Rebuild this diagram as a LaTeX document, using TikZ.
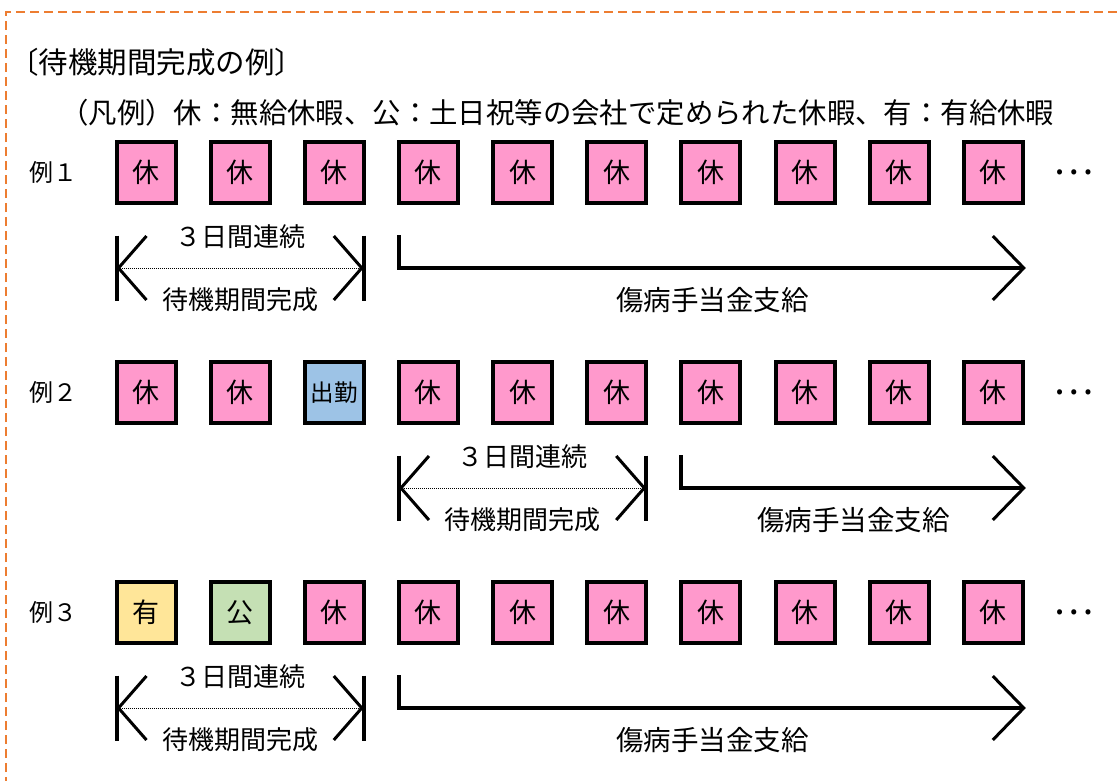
\documentclass[tikz,border=0pt]{standalone}
\usepackage{fontspec}
\setmainfont{Noto Sans CJK JP}
\usetikzlibrary{arrows.meta,calc}
\definecolor{RestClr}{HTML}{FF99CC}
\definecolor{WorkClr}{HTML}{9DC3E6}
\definecolor{PaidClr}{HTML}{FFE699}
\definecolor{HoliClr}{HTML}{C5E0B4}
\definecolor{FrameClr}{HTML}{ED7D31}

\begin{document}
\begin{tikzpicture}[x=1pt,y=-1pt,
    day/.style={draw=black,line width=4pt,minimum width=59pt,minimum height=61pt,
      inner sep=0pt,fill=RestClr,font=\fontsize{27pt}{27pt}\selectfont},
    rest/.style={fill=RestClr},
    work/.style={fill=WorkClr,font=\fontsize{23.5pt}{23.5pt}\selectfont},
    paid/.style={fill=PaidClr},
    holi/.style={fill=HoliClr},
    lbl/.style={inner sep=0pt,font=\fontsize{#1pt}{#1pt}\selectfont},
    bar/.style={line width=4pt},
    span/.style={densely dotted,line width=1pt,
      {Straight Barb[length=28pt,width=64pt,line width=3pt]}-{Straight Barb[length=28pt,width=64pt,line width=3pt]}},
    pay/.style={line width=4pt,-{Straight Barb[length=31pt,width=64pt,line width=3pt]}},
    frame/.style={draw=FrameClr,line width=2.5pt,dash pattern=on 9pt off 5pt}]
\useasboundingbox (0,0) rectangle (1119,781);

\draw[frame] (6,800) -- (6,12) -- (1140,12);

\node[lbl=29.5,anchor=west] (title) at (9,62) {〔待機期間完成の例〕};
\node[lbl=28.4,anchor=west] (legend) at (60,113) {（凡例）休：無給休暇、公：土日祝等の会社で定められた休暇、有：有給休暇};

\foreach \r/\ry/\rn/\kinds in {1/172.5/例１/{rest/休,rest/休,rest/休},
    2/392.5/例２/{rest/休,rest/休,work/出勤},
    3/612.5/例３/{paid/有,holi/公,rest/休}}{
  \node[lbl=24,anchor=west] (row\r) at (29,\ry) {\rn};
  \foreach \k/\t [count=\i] in \kinds
    \node[day,\k] (d\r-\i) at ({146+94.15*(\i-1)},\ry) {\t};
  \foreach \i in {4,...,10}
    \node[day] (d\r-\i) at ({146+94.15*(\i-1)},\ry) {休};
  \node[lbl=38] (more\r) at (1074,\ry) {…};
}

\foreach \r/\a/\b/\c in {1/1/3/4,2/4/6/7,3/1/3/4}{
  \coordinate (sa\r) at ($(d\r-\a.west)+(2,95.5)$);
  \coordinate (sb\r) at ($(d\r-\b.east)+(-2,95.5)$);
  \draw[bar] ($(sa\r)+(0,-32.5)$) -- ($(sa\r)+(0,32.5)$);
  \draw[bar] ($(sb\r)+(0,-32.5)$) -- ($(sb\r)+(0,32.5)$);
  \draw[span] (sa\r) -- (sb\r);
  \node[lbl=26] (wait\r) at ($(sa\r)!.5!(sb\r)+(0,-31)$) {３日間連続};
  \node[lbl=26] (done\r) at ($(sa\r)!.5!(sb\r)+(0,32)$) {待機期間完成};
  \coordinate (pa\r) at ($(d\r-\c.west)+(2,62.5)$);
  \coordinate (pb\r) at ($(d\r-10.east)+(1,95.5)$);
  \draw[pay] (pa\r) |- (pb\r);
  \node[lbl=27.5] (pay\r) at ($(pa\r|-pb\r)!.5!(pb\r)+(0,32)$) {傷病手当金支給};
}
\end{tikzpicture}
\end{document}
